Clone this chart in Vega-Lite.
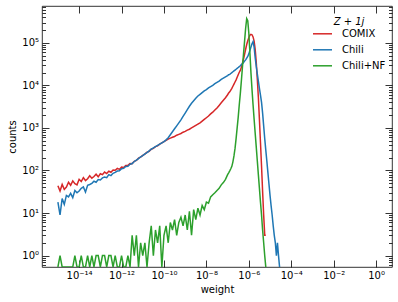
{
  "$schema": "https://vega.github.io/schema/vega-lite/v6.json",
  "width": 350,
  "height": 261,
  "autosize": {"type": "none"},
  "padding": {"left": 42, "top": 6, "right": 6, "bottom": 35},
  "config": {
    "view": {"stroke": "#000000", "strokeWidth": 0.8},
    "font": "DejaVu Sans",
    "axis": {"grid": false, "domain": false, "labelFont": "DejaVu Sans", "labelFontSize": 10, "labelColor": "#000000", "tickColor": "#000000", "tickWidth": 0.8, "titleFont": "DejaVu Sans", "titleFontSize": 10, "titleFontWeight": "normal", "titleColor": "#000000", "labelOverlap": false, "labelFlush": false},
    "legend": {"padding": 0}
  },
  "data": {"values": [
    {"w":1e-15,"COMIX":44,"Chili":18,"Chili+NF":0},
    {"w":1.259e-15,"COMIX":33,"Chili":9,"Chili+NF":1},
    {"w":1.585e-15,"COMIX":47,"Chili":22,"Chili+NF":0},
    {"w":1.995e-15,"COMIX":36,"Chili":16,"Chili+NF":0},
    {"w":2.512e-15,"COMIX":41,"Chili":26,"Chili+NF":0},
    {"w":3.162e-15,"COMIX":53,"Chili":24,"Chili+NF":0},
    {"w":3.981e-15,"COMIX":45,"Chili":29,"Chili+NF":0},
    {"w":5.012e-15,"COMIX":57,"Chili":23,"Chili+NF":0},
    {"w":6.31e-15,"COMIX":49,"Chili":34,"Chili+NF":1},
    {"w":7.943e-15,"COMIX":46,"Chili":30,"Chili+NF":0},
    {"w":1e-14,"COMIX":62,"Chili":33,"Chili+NF":0},
    {"w":1.259e-14,"COMIX":55,"Chili":38,"Chili+NF":1},
    {"w":1.585e-14,"COMIX":68,"Chili":41,"Chili+NF":0},
    {"w":1.995e-14,"COMIX":58,"Chili":31,"Chili+NF":0},
    {"w":2.512e-14,"COMIX":64,"Chili":45,"Chili+NF":1},
    {"w":3.162e-14,"COMIX":75,"Chili":47,"Chili+NF":0},
    {"w":3.981e-14,"COMIX":66,"Chili":50,"Chili+NF":1},
    {"w":5.012e-14,"COMIX":72,"Chili":56,"Chili+NF":0},
    {"w":6.31e-14,"COMIX":82,"Chili":53,"Chili+NF":1},
    {"w":7.943e-14,"COMIX":71,"Chili":61,"Chili+NF":1},
    {"w":1e-13,"COMIX":84,"Chili":60,"Chili+NF":0},
    {"w":1.259e-13,"COMIX":80,"Chili":67,"Chili+NF":1},
    {"w":1.585e-13,"COMIX":92,"Chili":70,"Chili+NF":1},
    {"w":1.995e-13,"COMIX":85,"Chili":68,"Chili+NF":0},
    {"w":2.512e-13,"COMIX":96,"Chili":80,"Chili+NF":1},
    {"w":3.162e-13,"COMIX":91,"Chili":76,"Chili+NF":1},
    {"w":3.981e-13,"COMIX":103,"Chili":86,"Chili+NF":0},
    {"w":5.012e-13,"COMIX":101,"Chili":90,"Chili+NF":1},
    {"w":6.31e-13,"COMIX":112,"Chili":97,"Chili+NF":0},
    {"w":7.943e-13,"COMIX":106,"Chili":99,"Chili+NF":0},
    {"w":1e-12,"COMIX":121,"Chili":110,"Chili+NF":1},
    {"w":1.259e-12,"COMIX":118,"Chili":112,"Chili+NF":0},
    {"w":1.585e-12,"COMIX":131,"Chili":124,"Chili+NF":0},
    {"w":1.995e-12,"COMIX":133,"Chili":126,"Chili+NF":1},
    {"w":2.512e-12,"COMIX":146,"Chili":140,"Chili+NF":0},
    {"w":3.162e-12,"COMIX":145,"Chili":146,"Chili+NF":3},
    {"w":3.981e-12,"COMIX":164,"Chili":163,"Chili+NF":1},
    {"w":5.012e-12,"COMIX":172,"Chili":176,"Chili+NF":3},
    {"w":6.31e-12,"COMIX":195,"Chili":190,"Chili+NF":0},
    {"w":7.943e-12,"COMIX":206,"Chili":210,"Chili+NF":2},
    {"w":1e-11,"COMIX":226,"Chili":224,"Chili+NF":1},
    {"w":1.259e-11,"COMIX":243,"Chili":245,"Chili+NF":2},
    {"w":1.585e-11,"COMIX":269,"Chili":263,"Chili+NF":0},
    {"w":1.995e-11,"COMIX":282,"Chili":288,"Chili+NF":2},
    {"w":2.512e-11,"COMIX":316,"Chili":316,"Chili+NF":5},
    {"w":3.162e-11,"COMIX":331,"Chili":339,"Chili+NF":1},
    {"w":3.981e-11,"COMIX":363,"Chili":363,"Chili+NF":4},
    {"w":5.012e-11,"COMIX":380,"Chili":389,"Chili+NF":2},
    {"w":6.31e-11,"COMIX":417,"Chili":417,"Chili+NF":5},
    {"w":7.943e-11,"COMIX":447,"Chili":447,"Chili+NF":0},
    {"w":1e-10,"COMIX":479,"Chili":479,"Chili+NF":3},
    {"w":1.259e-10,"COMIX":513,"Chili":525,"Chili+NF":5},
    {"w":1.585e-10,"COMIX":550,"Chili":589,"Chili+NF":2},
    {"w":1.995e-10,"COMIX":575,"Chili":692,"Chili+NF":6},
    {"w":2.512e-10,"COMIX":603,"Chili":813,"Chili+NF":4},
    {"w":3.162e-10,"COMIX":631,"Chili":955,"Chili+NF":7},
    {"w":3.981e-10,"COMIX":676,"Chili":1122,"Chili+NF":3},
    {"w":5.012e-10,"COMIX":708,"Chili":1318,"Chili+NF":6},
    {"w":6.31e-10,"COMIX":741,"Chili":1549,"Chili+NF":8},
    {"w":7.943e-10,"COMIX":794,"Chili":1862,"Chili+NF":5},
    {"w":1e-9,"COMIX":832,"Chili":2239,"Chili+NF":9},
    {"w":1.259e-9,"COMIX":891,"Chili":2692,"Chili+NF":4},
    {"w":1.585e-9,"COMIX":933,"Chili":3236,"Chili+NF":11},
    {"w":1.995e-9,"COMIX":1000,"Chili":3802,"Chili+NF":3},
    {"w":2.512e-9,"COMIX":1072,"Chili":4365,"Chili+NF":12},
    {"w":3.162e-9,"COMIX":1148,"Chili":5012,"Chili+NF":7},
    {"w":3.981e-9,"COMIX":1230,"Chili":5623,"Chili+NF":13},
    {"w":5.012e-9,"COMIX":1318,"Chili":6166,"Chili+NF":9},
    {"w":6.31e-9,"COMIX":1445,"Chili":6761,"Chili+NF":15},
    {"w":7.943e-9,"COMIX":1585,"Chili":7413,"Chili+NF":12},
    {"w":1e-8,"COMIX":1738,"Chili":7943,"Chili+NF":18},
    {"w":1.259e-8,"COMIX":1905,"Chili":8710,"Chili+NF":17},
    {"w":1.585e-8,"COMIX":2138,"Chili":9333,"Chili+NF":24},
    {"w":1.995e-8,"COMIX":2344,"Chili":10000,"Chili+NF":27},
    {"w":2.512e-8,"COMIX":2630,"Chili":10965,"Chili+NF":30},
    {"w":3.162e-8,"COMIX":2951,"Chili":11749,"Chili+NF":34},
    {"w":3.981e-8,"COMIX":3388,"Chili":12589,"Chili+NF":38},
    {"w":5.012e-8,"COMIX":3890,"Chili":13804,"Chili+NF":46},
    {"w":6.31e-8,"COMIX":4467,"Chili":14791,"Chili+NF":52},
    {"w":7.943e-8,"COMIX":5129,"Chili":15849,"Chili+NF":62},
    {"w":1e-7,"COMIX":6026,"Chili":16982,"Chili+NF":80},
    {"w":1.122e-7,"COMIX":6607,"Chili":17783,"Chili+NF":88},
    {"w":1.259e-7,"COMIX":7079,"Chili":18197,"Chili+NF":98},
    {"w":1.413e-7,"COMIX":7762,"Chili":19055,"Chili+NF":110},
    {"w":1.585e-7,"COMIX":8511,"Chili":19953,"Chili+NF":125},
    {"w":1.778e-7,"COMIX":9550,"Chili":20893,"Chili+NF":160},
    {"w":1.995e-7,"COMIX":10715,"Chili":21878,"Chili+NF":220},
    {"w":2.239e-7,"COMIX":12023,"Chili":22909,"Chili+NF":330},
    {"w":2.512e-7,"COMIX":13490,"Chili":23988,"Chili+NF":560},
    {"w":2.818e-7,"COMIX":15500,"Chili":25119,"Chili+NF":1000},
    {"w":3.162e-7,"COMIX":17800,"Chili":26303,"Chili+NF":1800},
    {"w":3.548e-7,"COMIX":20400,"Chili":27542,"Chili+NF":3500},
    {"w":3.981e-7,"COMIX":22400,"Chili":28840,"Chili+NF":6500},
    {"w":4.467e-7,"COMIX":26900,"Chili":30903,"Chili+NF":13000},
    {"w":5.012e-7,"COMIX":33100,"Chili":32359,"Chili+NF":27000},
    {"w":5.623e-7,"COMIX":41700,"Chili":34674,"Chili+NF":55000},
    {"w":6.31e-7,"COMIX":53700,"Chili":37154,"Chili+NF":110000},
    {"w":7.079e-7,"COMIX":70800,"Chili":39811,"Chili+NF":220000},
    {"w":7.943e-7,"COMIX":91200,"Chili":43652,"Chili+NF":370000},
    {"w":8.913e-7,"COMIX":112200,"Chili":47863,"Chili+NF":330000},
    {"w":1e-6,"COMIX":131800,"Chili":54954,"Chili+NF":170000},
    {"w":1.122e-6,"COMIX":151400,"Chili":66069,"Chili+NF":60000},
    {"w":1.259e-6,"COMIX":158500,"Chili":79433,"Chili+NF":20000},
    {"w":1.413e-6,"COMIX":154900,"Chili":95499,"Chili+NF":8000},
    {"w":1.585e-6,"COMIX":138000,"Chili":107152,"Chili+NF":3500},
    {"w":1.778e-6,"COMIX":109600,"Chili":79433,"Chili+NF":1600},
    {"w":1.995e-6,"COMIX":70800,"Chili":44668,"Chili+NF":750},
    {"w":2.239e-6,"COMIX":35500,"Chili":28184,"Chili+NF":360},
    {"w":2.512e-6,"COMIX":14100,"Chili":18621,"Chili+NF":170},
    {"w":2.818e-6,"COMIX":5250,"Chili":12589,"Chili+NF":80},
    {"w":3.162e-6,"COMIX":1585,"Chili":8511,"Chili+NF":38},
    {"w":3.548e-6,"COMIX":447,"Chili":5888,"Chili+NF":18},
    {"w":3.981e-6,"COMIX":126,"Chili":3981,"Chili+NF":9},
    {"w":4.467e-6,"COMIX":32,"Chili":2239,"Chili+NF":4},
    {"w":5.012e-6,"COMIX":9,"Chili":1122,"Chili+NF":2},
    {"w":5.623e-6,"COMIX":3,"Chili":562,"Chili+NF":1},
    {"w":6.31e-6,"COMIX":3,"Chili":302,"Chili+NF":0},
    {"w":7.079e-6,"Chili":166},
    {"w":7.943e-6,"Chili":89},
    {"w":8.913e-6,"Chili":48},
    {"w":1e-5,"Chili":26},
    {"w":1.122e-5,"Chili":15},
    {"w":1.259e-5,"Chili":9},
    {"w":1.413e-5,"Chili":5},
    {"w":1.585e-5,"Chili":3},
    {"w":1.778e-5,"Chili":2},
    {"w":1.995e-5,"Chili":1},
    {"w":2.239e-5,"Chili":2},
    {"w":2.512e-5,"Chili":1},
    {"w":2.818e-5,"Chili":0}
  ]},
  "transform": [
    {"fold": ["COMIX", "Chili", "Chili+NF"], "as": ["series", "count"]},
    {"filter": "isValid(datum.count)"}
  ],
  "resolve": {"axis": {"x": "independent", "y": "independent"}},
  "layer": [
    {
      "mark": {"type": "line", "interpolate": "linear", "strokeWidth": 1.5, "invalid": "show", "clip": true},
      "encoding": {
        "x": {"field": "w", "type": "quantitative", "scale": {"type": "log", "domain": [1.778e-16, 5.623]},
          "axis": {"orient": "bottom", "values": [1e-14, 1e-12, 1e-10, 1e-8, 1e-6, 1e-4, 1e-2, 1], "tickSize": -7, "labelPadding": 10.5, "title": "weight", "titlePadding": 4,
            "labelExpr": "'10' + (round(log(datum.value)/LN10) < 0 ? '⁻' : '') + (abs(round(log(datum.value)/LN10)) >= 10 ? substring('⁰¹²³⁴⁵⁶⁷⁸⁹', floor(abs(round(log(datum.value)/LN10))/10), floor(abs(round(log(datum.value)/LN10))/10)+1) : '') + substring('⁰¹²³⁴⁵⁶⁷⁸⁹', abs(round(log(datum.value)/LN10))%10, abs(round(log(datum.value)/LN10))%10+1)"}},
        "y": {"field": "count", "type": "quantitative", "scale": {"type": "log", "domain": [0.5395, 734500], "clamp": true},
          "axis": {"orient": "left", "values": [1, 10, 100, 1000, 10000, 100000], "tickSize": -7, "labelPadding": 10.5, "title": "counts", "titlePadding": 4,
            "labelExpr": "'10' + substring('⁰¹²³⁴⁵⁶⁷⁸⁹', round(log(datum.value)/LN10), round(log(datum.value)/LN10)+1)"}},
        "color": {"field": "series", "type": "nominal", "scale": {"domain": ["COMIX", "Chili", "Chili+NF"], "range": ["#d62728", "#1f77b4", "#2ca02c"]},
          "legend": {"orient": "none", "legendX": 270, "legendY": 11, "title": "Z + 1j", "titleFontStyle": "italic", "titleFont": "DejaVu Sans", "titleFontSize": 10, "titleFontWeight": "normal", "titleColor": "#000000", "titleAnchor": "middle", "titlePadding": -3.7, "symbolType": "stroke", "symbolSize": 361, "symbolStrokeWidth": 1.5, "labelFont": "DejaVu Sans", "labelFontSize": 10, "labelColor": "#000000", "labelOffset": 9, "rowPadding": -4}}
      }
    },
    {
      "mark": {"type": "line", "opacity": 0, "invalid": "show"},
      "encoding": {
        "x": {"field": "w", "type": "quantitative", "scale": {"type": "log", "domain": [1.778e-16, 5.623]},
          "axis": {"orient": "top", "values": [1e-14, 1e-12, 1e-10, 1e-8, 1e-6, 1e-4, 1e-2, 1], "tickSize": -7, "labels": false, "title": null}},
        "y": {"field": "count", "type": "quantitative", "scale": {"type": "log", "domain": [0.5395, 734500], "clamp": true},
          "axis": {"orient": "left", "values": [0.6, 0.7, 0.8, 0.9, 2, 3, 4, 5, 6, 7, 8, 9, 20, 30, 40, 50, 60, 70, 80, 90, 200, 300, 400, 500, 600, 700, 800, 900, 2000, 3000, 4000, 5000, 6000, 7000, 8000, 9000, 20000, 30000, 40000, 50000, 60000, 70000, 80000, 90000, 200000, 300000, 400000, 500000, 600000, 700000], "tickSize": -3.5, "labels": false, "title": null}},
        "detail": {"field": "series", "type": "nominal"}
      }
    },
    {
      "mark": {"type": "line", "opacity": 0, "invalid": "show"},
      "encoding": {
        "x": {"field": "w", "type": "quantitative", "scale": {"type": "log", "domain": [1.778e-16, 5.623]}, "axis": null},
        "y": {"field": "count", "type": "quantitative", "scale": {"type": "log", "domain": [0.5395, 734500], "clamp": true},
          "axis": {"orient": "right", "values": [1, 10, 100, 1000, 10000, 100000], "tickSize": -7, "labels": false, "title": null}},
        "detail": {"field": "series", "type": "nominal"}
      }
    },
    {
      "mark": {"type": "line", "opacity": 0, "invalid": "show"},
      "encoding": {
        "x": {"field": "w", "type": "quantitative", "scale": {"type": "log", "domain": [1.778e-16, 5.623]}, "axis": null},
        "y": {"field": "count", "type": "quantitative", "scale": {"type": "log", "domain": [0.5395, 734500], "clamp": true},
          "axis": {"orient": "right", "values": [0.6, 0.7, 0.8, 0.9, 2, 3, 4, 5, 6, 7, 8, 9, 20, 30, 40, 50, 60, 70, 80, 90, 200, 300, 400, 500, 600, 700, 800, 900, 2000, 3000, 4000, 5000, 6000, 7000, 8000, 9000, 20000, 30000, 40000, 50000, 60000, 70000, 80000, 90000, 200000, 300000, 400000, 500000, 600000, 700000], "tickSize": -3.5, "labels": false, "title": null}},
        "detail": {"field": "series", "type": "nominal"}
      }
    }
  ]
}
